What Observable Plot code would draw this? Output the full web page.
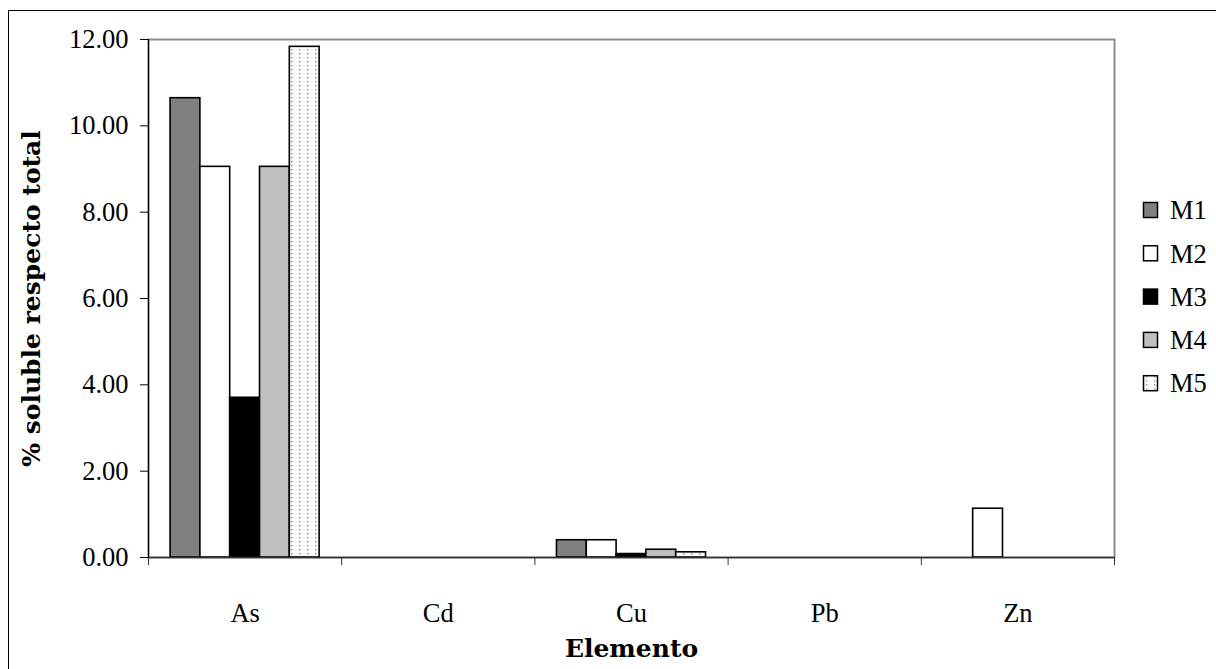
<!DOCTYPE html>
<html><head><meta charset="utf-8">
<script src="https://cdn.jsdelivr.net/npm/d3@7"></script>
<script src="https://cdn.jsdelivr.net/npm/@observablehq/plot@0.6"></script>
<style>
html,body{margin:0;padding:0;background:#fff;}
#wrap{position:relative;width:1216px;height:669px;overflow:hidden;background:#fff;}
#chart{position:absolute;left:0;top:0;}
#border{position:absolute;left:8px;top:10px;width:1400px;height:900px;border:1px solid #000;pointer-events:none;z-index:2;}
#legend{position:absolute;left:1135px;top:187px;z-index:3;}
</style></head><body>
<div id="wrap"><div id="chart"></div><div id="border"></div><svg id="legend" width="81" height="230"></svg></div>
<script>
// ---- data ----
const elements = ["As", "Cd", "Cu", "Pb", "Zn"];
const series = ["M1", "M2", "M3", "M4", "M5"];
const M1 = [10.64, 0, 0.40, 0, 0];
const M2 = [9.05, 0, 0.40, 0, 1.13];
const M3 = [3.70, 0, 0.08, 0, 0];
const M4 = [9.05, 0, 0.18, 0, 0];
const M5 = [11.83, 0, 0.12, 0, 0];
const yTicks = [0, 2, 4, 6, 8, 10, 12];
const fillColors = ["#808080", "#ffffff", "#000000", "#c0c0c0", "url(#dots)"];
const xTitle = "Elemento";
const yTitle = "% soluble respecto total";

const seriesValues = {M1, M2, M3, M4, M5};
const rows = [];
elements.forEach((el, i) => series.forEach(s => rows.push({element: el, series: s, value: seriesValues[s][i]})));

// sub-band within each element category
const sub = d3.scaleBand().domain(series).range([0, 1]).paddingInner(0).paddingOuter(0.74);
const ei = d => elements.indexOf(d.element);

const serif = "'Liberation Serif', 'Times New Roman', serif";
const boldSerif = "'DejaVu Serif', serif";

const chart = Plot.plot({
  width: 1216, height: 669,
  marginLeft: 148, marginRight: 102, marginTop: 39, marginBottom: 112,
  style: {fontFamily: serif, fontSize: "26px", background: "transparent", color: "black"},
  x: {domain: [0, elements.length]},
  y: {domain: [0, 12]},
  color: {domain: series, range: fillColors},
  marks: [
    Plot.frame({stroke: "#8c8c8c", strokeWidth: 2}),
    Plot.rect(rows, {
      filter: d => d.value > 0,
      x1: d => ei(d) + sub(d.series),
      x2: d => ei(d) + sub(d.series) + sub.bandwidth(),
      y1: 0, y2: "value",
      fill: "series", stroke: "black", strokeWidth: 1.6
    }),
    Plot.ruleX([0], {stroke: "black", strokeWidth: 1.2}),
    Plot.ruleY([0], {stroke: "#333", strokeWidth: 1.5}),
    Plot.axisY({ticks: yTicks, tickFormat: d => d.toFixed(2), tickSize: 8, tickPadding: 12, label: null, fontSize: 26.5, fontFamily: serif}),
    Plot.axisY({ticks: [], label: yTitle, labelAnchor: "center", labelArrow: false, labelOffset: 126, fontFamily: boldSerif, fontWeight: "bold", fontSize: 25}),
    Plot.axisX({ticks: d3.range(elements.length + 1), tickFormat: () => "", tickSize: 8, label: null, stroke: "#333"}),
    Plot.axisX({ticks: elements.map((e, i) => i + 0.5), tickFormat: d => elements[Math.floor(d)], tickSize: 0, tickPadding: 46, label: null, fontSize: 26.5, fontFamily: serif}),
    Plot.axisX({ticks: [], label: xTitle, labelAnchor: "center", labelArrow: false, labelOffset: 99, fontFamily: boldSerif, fontWeight: "bold", fontSize: 25})
  ]
});
document.getElementById("chart").appendChild(chart);

// dotted pattern for M5
const svg = d3.select(chart.tagName.toLowerCase() === "svg" ? chart : chart.querySelector("svg"));
const defs = svg.insert("defs", ":first-child");
const pat = defs.append("pattern").attr("id", "dots").attr("patternUnits", "userSpaceOnUse").attr("width", 8).attr("height", 4);
pat.append("rect").attr("width", 8).attr("height", 4).attr("fill", "white");
pat.append("rect").attr("x", 3).attr("y", 1).attr("width", 1.4).attr("height", 1.4).attr("fill", "#8a8a8a");

// legend
const color = chart.scale("color");
const lg = d3.select("#legend");
series.forEach((s, i) => {
  const g = lg.append("g").attr("transform", `translate(0,${23 + i * 43.3})`);
  g.append("rect").attr("x", 8.5).attr("y", -7.5).attr("width", 14).attr("height", 15)
    .attr("fill", color.apply(s)).attr("stroke", "black").attr("stroke-width", 1.5);
  g.append("text").attr("x", 35).attr("y", 0).attr("dy", "0.35em")
    .attr("font-family", serif).attr("font-size", 26.5).text(s);
});
</script>
</body></html>
